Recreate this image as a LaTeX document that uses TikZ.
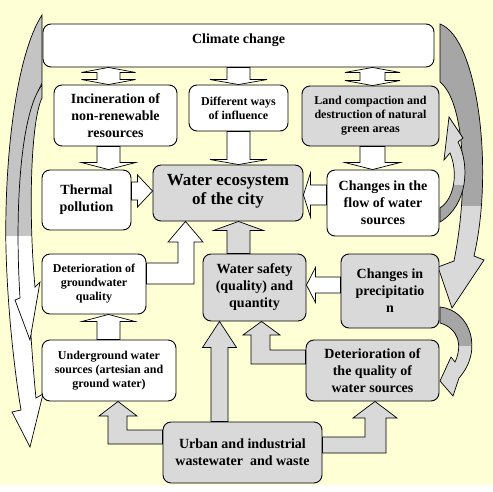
\documentclass[tikz,border=0pt]{standalone}
\usepackage{fontspec}
\setmainfont{Liberation Serif}
\usetikzlibrary{calc}
\definecolor{bgyellow}{rgb}{1,1,0.84}
\definecolor{boxgray}{RGB}{217,217,217}
\definecolor{backgray}{RGB}{166,166,166}
\definecolor{leftgray}{RGB}{196,196,196}
\begin{document}
\begin{tikzpicture}[x=1pt,y=-1pt,
    box/.style={draw, line width=0.9pt, rounded corners=8pt, align=center,
      inner sep=2pt, font=\bfseries\fontsize{14}{17}\selectfont},
    wbox/.style={box, fill=white},
    gbox/.style={box, fill=boxgray},
    small/.style={font=\bfseries\fontsize{12}{14}\selectfont},
    fatshaft/.store in=\fatshaft, fathead/.store in=\fathead, fatlen/.store in=\fatlen,
    fatshaft=11.5pt, fathead=27pt, fatlen=7pt,
    fat/.style={draw, line width=0.7pt, to path={
      ($(\tikztostart)!\fatshaft!90:(\tikztotarget)$)
      -- ($($(\tikztotarget)!\fatlen!(\tikztostart)$)!\fatshaft!-90:(\tikztostart)$)
      -- ($($(\tikztotarget)!\fatlen!(\tikztostart)$)!\fathead!-90:(\tikztostart)$)
      -- (\tikztotarget)
      -- ($($(\tikztotarget)!\fatlen!(\tikztostart)$)!\fathead!90:(\tikztostart)$)
      -- ($($(\tikztotarget)!\fatlen!(\tikztostart)$)!\fatshaft!90:(\tikztostart)$)
      -- ($(\tikztostart)!\fatshaft!-90:(\tikztotarget)$) -- cycle}},
    fatboth/.style={draw, line width=0.7pt, to path={
      (\tikztostart)
      -- ($($(\tikztostart)!\fatlen!(\tikztotarget)$)!\fathead!90:(\tikztotarget)$)
      -- ($($(\tikztostart)!\fatlen!(\tikztotarget)$)!\fatshaft!90:(\tikztotarget)$)
      -- ($($(\tikztotarget)!\fatlen!(\tikztostart)$)!\fatshaft!-90:(\tikztostart)$)
      -- ($($(\tikztotarget)!\fatlen!(\tikztostart)$)!\fathead!-90:(\tikztostart)$)
      -- (\tikztotarget)
      -- ($($(\tikztotarget)!\fatlen!(\tikztostart)$)!\fathead!90:(\tikztostart)$)
      -- ($($(\tikztotarget)!\fatlen!(\tikztostart)$)!\fatshaft!90:(\tikztostart)$)
      -- ($($(\tikztostart)!\fatlen!(\tikztotarget)$)!\fatshaft!-90:(\tikztotarget)$)
      -- ($($(\tikztostart)!\fatlen!(\tikztotarget)$)!\fathead!-90:(\tikztotarget)$)
      -- cycle}},
    elbow/.style={draw, line width=0.7pt}]

  \useasboundingbox (0,0) rectangle (493,491);
  \fill[white] (0,0) rectangle (493,491);
  \fill[bgyellow] (0,0) rectangle (493,485);

  % curved arrows on the left
  \path[save path=\lefta] (42,15) .. controls (16,55) and (4,160) .. (6,250)
    .. controls (8,320) and (16,380) .. (21,410) -- (12,412) -- (30,447) -- (43,394) -- (36,398)
    .. controls (30,340) and (22,200) .. (29,140) .. controls (32,110) and (37,92) .. (42,83) -- cycle;
  \fill[white, use path=\lefta];
  \begin{scope}
    \clip (0,0) rectangle (60,235);
    \fill[leftgray, use path=\lefta];
  \end{scope}
  \draw[line width=0.7pt, use path=\lefta];

  \path[save path=\leftb] (42,85) .. controls (22,110) and (14,200) .. (20,298) -- (15,300)
    -- (30,340) -- (40,282) -- (35,287) .. controls (28,210) and (31,120) .. (42,98) -- cycle;
  \fill[white, use path=\leftb];
  \begin{scope}
    \clip (0,0) rectangle (60,235);
    \fill[leftgray, use path=\leftb];
  \end{scope}
  \draw[line width=0.7pt, use path=\leftb];

  % curved arrows on the right
  \path[save path=\righta] (440,24) .. controls (478,38) and (494,170) .. (474,256) -- (484,260)
    -- (452,308) -- (438,267) -- (454,261) .. controls (470,180) and (463,100) .. (440,82) -- cycle;
  \fill[boxgray, use path=\righta];
  \begin{scope}
    \clip (430,0) rectangle (493,205);
    \fill[backgray, use path=\righta];
  \end{scope}
  \draw[line width=0.7pt, use path=\righta];

  \path[save path=\rightb] (440,222) .. controls (468,205) and (470,165) .. (458,142) -- (463,138)
    -- (449,117) -- (444,160) -- (450,153) .. controls (458,172) and (455,198) .. (440,208) -- cycle;
  \fill[boxgray, use path=\rightb];
  \begin{scope}
    \clip (430,185) rectangle (493,230);
    \fill[backgray, use path=\rightb];
  \end{scope}
  \draw[line width=0.7pt, use path=\rightb];

  \path[save path=\rightc] (440,307) .. controls (470,310) and (484,350) .. (459,378) -- (453,396)
    -- (440,381) -- (451,357) -- (455,362) .. controls (463,345) and (458,328) .. (440,323) -- cycle;
  \fill[boxgray, use path=\rightc];
  \begin{scope}
    \clip (430,300) rectangle (493,345);
    \fill[backgray, use path=\rightc];
  \end{scope}
  \draw[line width=0.7pt, use path=\rightc];

  % boxes
  \node[wbox, minimum width=391pt, minimum height=43pt, text depth=14pt] (clim) at (238.5,45.5) {Climate change};
  \node[wbox, minimum width=123pt, minimum height=61pt] (inc) at (115.5,115.5) {Incineration of\\non-renewable\\resources};
  \node[wbox, small, minimum width=99pt, minimum height=46pt] (diff) at (238.5,108) {Different ways\\of influence};
  \node[gbox, small, minimum width=137pt, minimum height=60pt] (land) at (370.5,116) {Land compaction and\\destruction of natural\\green areas};
  \node[wbox, minimum width=89pt, minimum height=60pt] (therm) at (86.5,200) {Thermal\\pollution};
  \node[gbox, minimum width=150pt, minimum height=56pt, text depth=8pt, font=\bfseries\fontsize{17}{19}\selectfont] (eco) at (228,193) {Water ecosystem\\of the city};
  \node[wbox, minimum width=112pt, minimum height=66pt] (flow) at (383,203) {Changes in the\\flow of water\\sources};
  \node[wbox, small, minimum width=104pt, minimum height=60pt] (gwq) at (94,284) {Deterioration of\\groundwater\\quality};
  \node[gbox, minimum width=103pt, minimum height=67pt] (safe) at (254.5,287.5) {Water safety\\(quality) and\\quantity};
  \node[gbox, minimum width=98pt, minimum height=74pt] (prec) at (390,291) {Changes in\\precipitatio\\n};
  \node[wbox, small, minimum width=134pt, minimum height=61pt] (under) at (109,370.5) {Underground water\\sources (artesian and\\ground water)};
  \node[gbox, minimum width=133pt, minimum height=61pt] (dqual) at (372.5,370.5) {Deterioration of\\the quality of\\water sources};
  \node[gbox, minimum width=159pt, minimum height=61pt] (urban) at (242.5,452.5) {Urban and industrial\\wastewater\ \ and waste};

  % straight block arrows
  \draw[fatboth, fill=white, fatlen=5pt] (clim.south -| 108.5,0) to (inc.north -| 108.5,0);
  \draw[fat, fill=white, fatlen=5pt, fathead=28.5pt] (clim.south -| 238.5,0) to (diff.north -| 238.5,0);
  \draw[fatboth, fill=white, fatlen=5pt, fatshaft=12.5pt, fathead=27.5pt] (clim.south -| 372.5,0) to (land.north -| 372.5,0);
  \draw[fat, fill=white] (inc.south -| 108.5,0) to (therm.north -| 108.5,0);
  \draw[fat, fill=white, fatlen=5pt, fathead=28.5pt] (diff.south) to (eco.north -| diff.south);
  \draw[fat, fill=white, fatshaft=12.5pt, fathead=27.5pt] (land.south -| 372.5,0) to (flow.north -| 372.5,0);
  \draw[fat, fill=white, fatshaft=9pt, fathead=16pt, fatlen=15pt] (therm.east |- 0,191) to (eco.west |- 0,191);
  \draw[fat, fill=white, fatshaft=10pt, fathead=22pt] (flow.west |- 0,195) to (eco.east |- 0,195);
  \draw[fat, fill=boxgray, fathead=25pt, fatlen=9pt] (safe.north -| 238.5,0) to (eco.south -| 238.5,0);
  \draw[fat, fill=white, fatshaft=8pt, fathead=17.5pt, fatlen=9pt] (prec.west |- 0,285) to (safe.east |- 0,285);
  \draw[fat, fill=white, fathead=26.5pt] (under.north -| 108.5,0) to (gwq.south -| 108.5,0);
  \draw[fat, fill=boxgray, fatshaft=8.5pt, fathead=17pt, fatlen=26pt] (urban.north -| 219.5,0) to (safe.south -| 219.5,0);

  % elbow block arrows
  \draw[elbow, fill=white] (gwq.east |- 0,263) -- (178,263) -- (178,242) -- (168,242)
    -- (eco.south -| 185.5,0) -- (203,242) -- (194,242) -- (194,284) -- (gwq.east |- 0,284) -- cycle;
  \draw[elbow, fill=boxgray] (dqual.west |- 0,350) -- (270,350) -- (270,335) -- (280,335)
    -- (safe.south -| 261.5,0) -- (243,335) -- (251,335) -- (251,364) -- (dqual.west |- 0,364) -- cycle;
  \draw[elbow, fill=boxgray] (urban.west |- 0,430) -- (127,430) -- (127,416) -- (137,416)
    -- (under.south -| 118,0) -- (99,416) -- (108,416) -- (108,444) -- (urban.west |- 0,444) -- cycle;
  \draw[elbow, fill=boxgray] (urban.east |- 0,437) -- (365,437) -- (365,418) -- (353,418)
    -- (dqual.south -| 375,0) -- (397,418) -- (386,418) -- (386,453) -- (urban.east |- 0,453) -- cycle;
\end{tikzpicture}
\end{document}
